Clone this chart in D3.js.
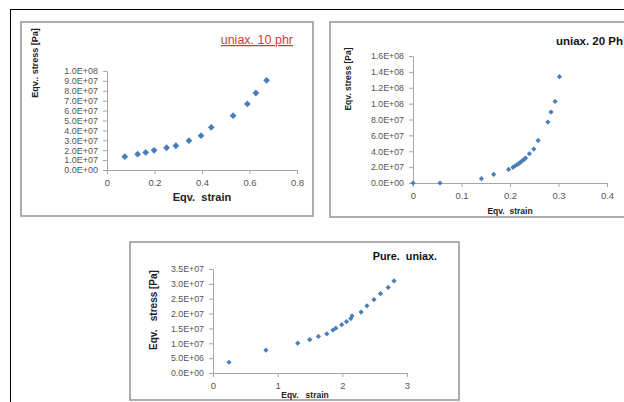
<!DOCTYPE html>
<html><head><meta charset="utf-8">
<script src="https://cdn.jsdelivr.net/npm/d3@7"></script>
<style>
html,body{margin:0;padding:0;background:#fff;}
svg{display:block;font-family:"Liberation Sans",Arial,sans-serif;}
</style></head>
<body>
<svg id="c" width="624" height="402"></svg>
<script>
// ---- data ----
const p1Strain = [0.075,0.129,0.163,0.198,0.251,0.29,0.345,0.396,0.439,0.531,0.591,0.627,0.672];
const p1Stress = [1.35e7,1.6e7,1.78e7,1.99e7,2.25e7,2.45e7,2.96e7,3.47e7,4.31e7,5.49e7,6.67e7,7.78e7,9.06e7];
const p1XTicks = [0,0.2,0.4,0.6,0.8];
const p1YTicks = [0,1e7,2e7,3e7,4e7,5e7,6e7,7e7,8e7,9e7,1e8];

const p2Strain = [0,0.0557,0.141,0.1664,0.197,0.206,0.210,0.2144,0.2186,0.222,0.2255,0.229,0.232,0.240,0.249,0.258,0.278,0.2845,0.293,0.302];
const p2Stress = [0,0,5.4e6,1.08e7,1.71e7,1.97e7,2.14e7,2.31e7,2.47e7,2.64e7,2.81e7,2.97e7,3.14e7,3.69e7,4.28e7,5.37e7,7.68e7,8.94e7,1.028e8,1.339e8];
const p2XTicks = [0,0.1,0.2,0.3,0.4];
const p2YTicks = [0,2e7,4e7,6e7,8e7,1e8,1.2e8,1.4e8,1.6e8];

const p3Strain = [0.248,0.818,1.31,1.496,1.63,1.76,1.855,1.90,1.99,2.065,2.13,2.15,2.29,2.38,2.49,2.59,2.71,2.80];
const p3Stress = [3.62e6,7.68e6,1.005e7,1.12e7,1.23e7,1.32e7,1.445e7,1.51e7,1.625e7,1.73e7,1.83e7,1.92e7,2.05e7,2.26e7,2.47e7,2.67e7,2.88e7,3.1e7];
const p3XTicks = [0,1,2,3];
const p3YTicks = [0,5e6,1e7,1.5e7,2e7,2.5e7,3e7,3.5e7];

const titles = ["uniax. 10 phr","uniax. 20 Ph","Pure.  uniax."];
const xTitles = ["Eqv.  strain","Eqv.  strain","Eqv.   strain"];
const yTitles = ["Eqv.. stress [Pa]","Eqv. stress [Pa]","Eqv.   stress [Pa]"];

// ---- layout ----
const panels = [
  {box:[21,22,313,216], xr:[107,297], yr:[170,71], xd:[0,0.8], yd:[0,1e8],
   xs:p1Strain, ys:p1Stress, xt:p1XTicks, yt:p1YTicks, r:3.4, tickFont:9, xTickFont:9.5,
   title:{x:293,y:44,anchor:"end",size:12.5,weight:"normal",color:"#d23a3a",underline:true},
   xTitle:{x:202,y:201,size:11}, yTitle:{x:35,y:63,size:9}},
  {box:[330,22,640,217], xr:[413,607], yr:[183,56], xd:[0,0.4], yd:[0,1.6e8],
   xs:p2Strain, ys:p2Stress, xt:p2XTicks, yt:p2YTicks, r:2.6, tickFont:8.8, xTickFont:9.5,
   title:{x:623,y:45,anchor:"end",size:11.5,weight:"bold",color:"#111"},
   xTitle:{x:510,y:214,size:8.5}, yTitle:{x:348,y:79,size:8.5}},
  {box:[130,242,459,400], xr:[213,407], yr:[373,269], xd:[0,3], yd:[0,3.5e7],
   xs:p3Strain, ys:p3Stress, xt:p3XTicks, yt:p3YTicks, r:2.6, tickFont:8.8, xTickFont:9.5,
   title:{x:437,y:260,anchor:"end",size:10.8,weight:"bold",color:"#111"},
   xTitle:{x:305,y:398,size:8.5}, yTitle:{x:153,y:310,size:10}}
];

const svg = d3.select("#c");
svg.append("rect").attr("width",624).attr("height",402).attr("fill","#fff");
// outer black frame
svg.append("line").attr("x1",10).attr("x2",624).attr("y1",9.5).attr("y2",9.5).attr("stroke","#000").attr("stroke-width",1);
svg.append("line").attr("x1",10.5).attr("x2",10.5).attr("y1",9).attr("y2",402).attr("stroke","#000").attr("stroke-width",1);

const fmtE = v => {
  if (v === 0) return "0.0E+00";
  const s = v.toExponential(1).split("e");
  const e = parseInt(s[1],10);
  return s[0] + "E" + (e<0?"-":"+") + String(Math.abs(e)).padStart(2,"0");
};
const diamond = r => `M0,${-r}L${r},0L0,${r}L${-r},0Z`;

panels.forEach((p,i) => {
  const g = svg.append("g");
  const [x0,y0,x1,y1] = p.box;
  g.append("rect").attr("x",x0).attr("y",y0).attr("width",x1-x0).attr("height",y1-y0)
    .attr("fill","#fff").attr("stroke","#9a9a9a").attr("stroke-width",1.6);

  const x = d3.scaleLinear().domain(p.xd).range(p.xr);
  const y = d3.scaleLinear().domain(p.yd).range(p.yr);

  const ya = g.append("g").attr("transform",`translate(${p.xr[0]},0)`)
    .call(d3.axisLeft(y).tickValues(p.yt).tickFormat(fmtE).tickSize(4).tickSizeOuter(0).tickPadding(5));
  const xa = g.append("g").attr("transform",`translate(0,${p.yr[0]})`)
    .call(d3.axisBottom(x).tickValues(p.xt).tickFormat(d=>d3.format("")(+d.toFixed(2))).tickSize(4).tickSizeOuter(0).tickPadding(5));
  [ya,xa].forEach(a => {
    a.select(".domain").attr("stroke","#a6a6a6");
    a.selectAll(".tick line").attr("stroke","#a6a6a6");
    a.selectAll(".tick text").attr("fill","#555").attr("font-family","'Liberation Sans',Arial,sans-serif");
  });
  ya.selectAll(".tick text").attr("font-size",p.tickFont);
  xa.selectAll(".tick text").attr("font-size",p.xTickFont);

  g.append("g").selectAll("path").data(p.xs.map((d,k)=>[d,p.ys[k]])).join("path")
    .attr("d",diamond(p.r))
    .attr("transform",d=>`translate(${x(d[0])},${y(d[1])})`)
    .attr("fill","#4a7ebb");

  const t = p.title;
  g.append("text").attr("x",t.x).attr("y",t.y).attr("text-anchor",t.anchor)
    .attr("font-size",t.size).attr("font-weight",t.weight).attr("fill",t.color)
    .attr("text-decoration",t.underline?"underline":null)
    .style("white-space","pre").text(titles[i]);

  g.append("text").attr("x",p.xTitle.x).attr("y",p.xTitle.y).attr("text-anchor","middle")
    .attr("font-size",p.xTitle.size).attr("font-weight","bold").attr("fill","#222")
    .style("white-space","pre").text(xTitles[i]);

  g.append("text").attr("transform",`translate(${p.yTitle.x},${p.yTitle.y}) rotate(-90)`)
    .attr("text-anchor","middle").attr("dy","0.35em")
    .attr("font-size",p.yTitle.size).attr("font-weight","bold").attr("fill","#222")
    .style("white-space","pre").text(yTitles[i]);
});
</script>
</body></html>
